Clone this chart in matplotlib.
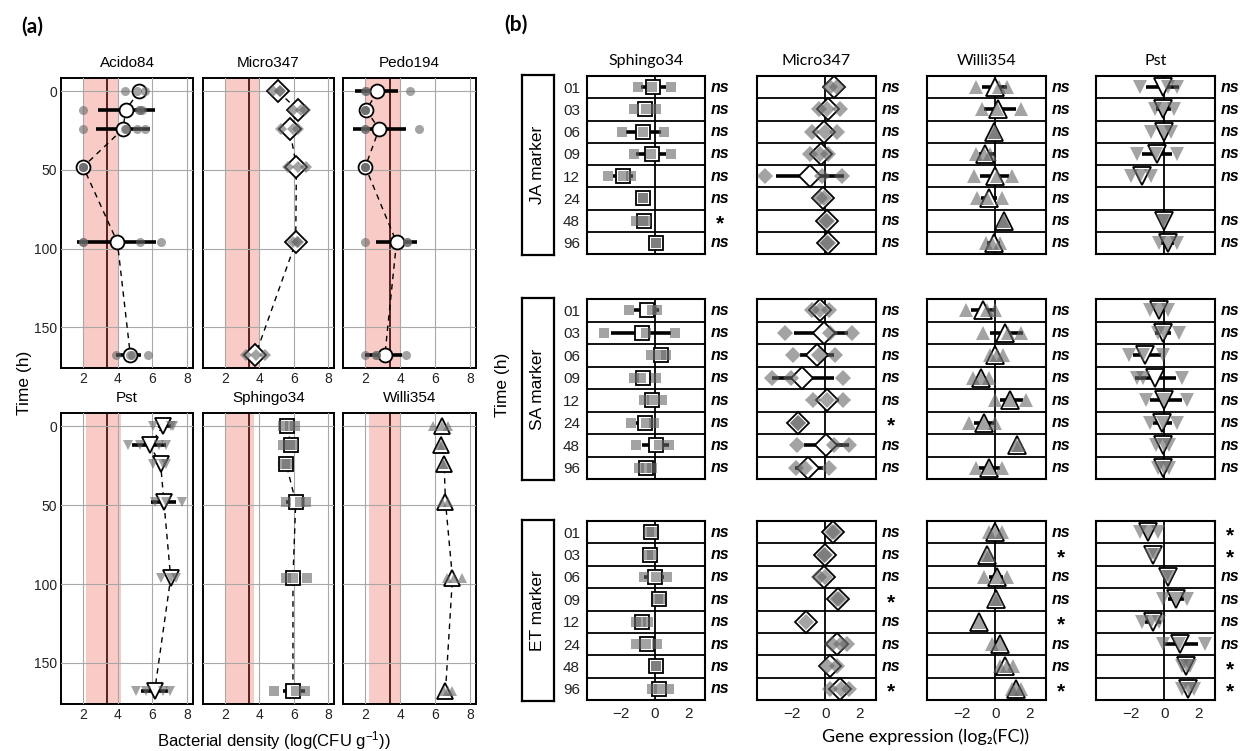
import matplotlib.pyplot as plt
import numpy as np

plt.rcParams['font.family'] = ['Liberation Sans', 'DejaVu Sans']
plt.rcParams['mathtext.default'] = 'regular'

W, H = 1241, 751

# ---------------- panel (a): bacterial density ----------------
times = [0, 12, 24, 48, 96, 168]

acido84 = dict(mean=[5.23, 4.46, 4.3, 2.0, 3.98, 4.73],
               lo=[4.8, 2.87, 2.77, None, 1.67, 3.9],
               hi=[5.65, 6.13, 5.88, None, 6.23, 5.37],
               reps=[[4.4, 5.1, 5.55], [2.0, 5.3, 5.4, 5.2], [2.0, 4.4, 5.1, 5.55, 4.5],
                     [2.0, 2.0, 2.0], [2.0, 5.3, 6.5, 2.0], [3.9, 4.8, 5.75, 4.7]])
micro347 = dict(mean=[5.09, 6.25, 5.77, 6.16, 6.12, 3.77],
                lo=[None] * 6, hi=[None] * 6,
                reps=[[4.8, 5.2, 5.2], [5.96, 6.45, 6.64], [5.28, 5.96, 6.25],
                      [5.67, 6.25, 6.74], [5.96, 6.25, 6.2], [3.24, 3.83, 4.31]])
pedo194 = dict(mean=[2.69, 2.06, 2.79, 2.0, 3.79, 3.12],
               lo=[1.38, None, 1.29, None, 2.63, 2.0],
               hi=[3.88, None, 4.33, None, 4.98, 4.1],
               reps=[[2.06, 2.0, 4.56], [2.0, 2.0, 2.0], [2.0, 2.0, 5.1],
                     [2.0, 2.0, 2.0], [2.0, 4.4, 4.4], [2.0, 2.6, 2.6, 4.33]])
pst = dict(mean=[6.6, 5.85, 6.48, 6.67, 7.06, 6.13],
           lo=[6.3, 4.8, None, 5.94, None, 5.37],
           hi=[7.1, 6.8, None, 7.38, None, 6.9],
           reps=[[6.04, 7.1, 7.2], [4.6, 5.3, 6.4, 6.8], [6.04, 6.6, 6.8],
                 [6.13, 6.8, 7.73], [6.5, 7.1, 7.38], [5.08, 5.65, 6.6, 7.0]])
sphingo34 = dict(mean=[5.61, 5.86, 5.57, 6.12, 5.96, 5.96],
                 lo=[None, None, None, 5.57, 5.47, 5.38],
                 hi=[None, None, None, 6.45, 6.45, 6.64],
                 reps=[[5.38, 5.77, 6.06], [5.38, 5.77, 5.96], [5.47, 5.6],
                       [5.57, 6.35, 6.74], [5.57, 5.96, 6.78], [4.83, 6.16, 6.64]])
willi354 = dict(mean=[6.42, 6.33, 6.52, 6.6, 7.0, 6.6],
                lo=[None] * 6, hi=[None] * 6,
                reps=[[5.9, 6.38, 6.77], [6.3, 6.38], [6.48, 6.52], [6.38, 6.77],
                      [6.67, 7.06, 7.54], [6.5, 6.77, 6.96]])

a_names = ['Acido84', 'Micro347', 'Pedo194', 'Pst', 'Sphingo34', 'Willi354']
a_data = [acido84, micro347, pedo194, pst, sphingo34, willi354]
a_markers = ['o', 'D', 'o', 'v', 's', '^']
band_lo = [2.0, 2.0, 2.0, 2.15, 2.0, 2.2]
band_hi = [4.0, 4.05, 4.0, 4.2, 3.67, 4.05]
detect_limit = 3.4

# ---------------- panel (b): gene expression ----------------
row_labels = ['01', '03', '06', '09', '12', '24', '48', '96']
blocks = ['JA marker', 'SA marker', 'ET marker']
b_names = ['Sphingo34', 'Micro347', 'Willi354', 'Pst']
b_markers = ['s', 'D', '^', 'v']

ja_sphingo = dict(mean=[-0.1, -0.6, -0.69, -0.14, -1.92, -0.69, -0.63, 0.06],
                  lo=[-0.83, -0.93, -1.72, -1.13, -2.5, None, -0.93, None],
                  hi=[0.65, -0.14, 0.36, 0.65, -1.33, None, -0.33, None],
                  reps=[[-1.03, -0.14, 0.95], [-1.27, -0.53, 0.06], [-1.96, -0.73, 0.55],
                        [-1.23, -0.24, 0.95], [-2.81, -1.92, -1.43], [-0.69, -0.7],
                        [-1.13, -0.73, -0.53], [0.06, 0.05]],
                  sig=['ns', 'ns', 'ns', 'ns', 'ns', 'ns', '*', 'ns'])
ja_micro = dict(mean=[0.5, 0.14, -0.06, -0.24, -0.9, -0.16, 0.1, 0.14],
                lo=[None, -0.3, -0.6, -0.6, -2.9, None, None, None],
                hi=[None, 0.5, 0.5, 0.14, 1.1, None, None, None],
                reps=[[0.3, 0.7], [-0.4, 0.1, 0.85], [-0.8, 0.0, 0.7], [-0.9, -0.3, 0.14],
                      [-3.56, -0.2, 1.0], [-0.3, -0.1], [0.06, 0.1], [0.14, 0.12]],
                sig=['ns'] * 8)
ja_willi = dict(mean=[-0.04, 0.15, -0.06, -0.62, 0.0, -0.38, 0.52, -0.1],
                lo=[-0.77, -0.67, None, -0.96, -0.9, -0.87, None, -0.48],
                hi=[0.67, 1.25, None, -0.1, 0.83, 0.1, None, 0.29],
                reps=[[-1.15, 0.19, 0.67], [-0.77, 0.1, 1.54], [-0.1, 0.0], [-1.15, -0.67, -0.29],
                      [-1.25, 0.1, 0.96], [-1.06, -0.48, 0.38], [0.48, 0.52], [-0.58, -0.19, 0.29]],
                sig=['ns'] * 8)
ja_pst = dict(mean=[-0.06, -0.06, -0.04, -0.42, -1.35, np.nan, 0.0, 0.19],
              lo=[-1.06, -0.48, -0.29, -1.35, None, None, None, -0.19],
              hi=[0.87, 0.38, 0.29, 0.48, None, None, None, 0.58],
              reps=[[-1.44, 0.19, 0.77], [-0.58, -0.1, 0.58], [-0.77, 0.0, 0.38], [-1.63, -0.48, 0.77],
                    [-1.98, -1.44, -0.77], [], [-0.1, 0.0], [-0.29, 0.19, 0.77]],
              sig=['ns', 'ns', 'ns', 'ns', 'ns', '', 'ns', 'ns'])

sa_sphingo = dict(mean=[-0.48, -0.77, 0.36, -0.69, -0.14, -0.57, 0.06, -0.5],
                  lo=[-1.23, -2.6, 0.06, -1.13, -0.43, -1.13, -0.77, -0.83],
                  hi=[0.26, 0.95, 0.65, -0.24, 0.26, -0.14, 0.85, -0.14],
                  reps=[[-1.52, -0.14, 0.16], [-3.05, -0.53, 1.2], [-0.24, 0.36, 0.65],
                        [-1.23, -0.83, 0.06], [-0.63, -0.14, 0.46], [-1.43, -0.53, -0.04],
                        [-1.13, 0.26, 0.85], [-0.93, -0.53, -0.14]],
                  sig=['ns'] * 8)
sa_micro = dict(mean=[-0.3, -0.1, -0.5, -1.39, 0.1, -1.64, 0.06, -1.0],
                lo=[None, -1.84, -1.5, -3.17, -0.5, None, -1.25, -1.8],
                hi=[None, 1.33, 0.5, 0.5, 0.8, None, 1.39, -0.16],
                reps=[[-0.8, -0.3, 0.2], [-2.4, 0.3, 1.6], [-1.9, -0.4, 0.6], [-3.17, -2.04, 1.05],
                      [-0.73, 0.1, 1.05], [-1.64, -1.6], [-1.68, 0.5, 1.39], [-1.72, -1.2, 0.2]],
                sig=['ns', 'ns', 'ns', 'ns', 'ns', '*', 'ns', 'ns'])
sa_willi = dict(mean=[-0.71, 0.58, 0.0, -0.87, 0.87, -0.67, 1.29, -0.38],
                lo=[-1.44, -0.33, None, None, 0.29, -1.25, None, -0.96],
                hi=[-0.1, 1.63, None, None, 1.63, -0.1, None, 0.29],
                reps=[[-1.73, -0.5, 0.0], [-0.71, 0.77, 1.54], [-0.29, 0.1, 0.48], [-1.35, -0.87, -0.38],
                      [0.0, 0.87, 1.79], [-1.54, -0.67, 0.0], [1.21, 1.4], [-1.15, -0.38, 0.38]],
                sig=['ns'] * 8)
sa_pst = dict(mean=[-0.29, -0.06, -1.15, -0.58, 0.0, -0.15, -0.1, -0.1],
              lo=[None, -0.58, -1.83, -1.73, -0.87, -0.67, None, None],
              hi=[None, 0.38, -0.19, 0.67, 1.06, 0.48, None, None],
              reps=[[-0.87, -0.29, 0.19], [-0.38, 0.0, 0.87], [-2.1, -1.25, -0.1], [-1.63, -1.25, 1.06],
                    [-1.1, 0.0, 1.35], [-0.87, -0.1, 0.77], [-0.48, 0.0, 0.29], [-0.38, 0.0, 0.29]],
              sig=['ns'] * 8)

et_sphingo = dict(mean=[-0.2, -0.3, 0.0, 0.26, -0.79, -0.44, 0.06, 0.26],
                  lo=[None, None, -0.63, None, -1.03, -0.83, None, -0.04],
                  hi=[None, None, 0.55, None, -0.53, -0.04, None, 0.55],
                  reps=[[-0.34, -0.14], [-0.38, -0.14], [-0.63, 0.06, 0.75], [0.22, 0.3],
                        [-1.13, -0.83, -0.43], [-1.13, -0.53, 0.16], [0.06, 0.05], [-0.14, 0.26, 0.85]],
                  sig=['ns'] * 8)
et_micro = dict(mean=[0.46, -0.04, -0.1, 0.75, -1.13, 0.69, 0.3, 0.85],
                lo=[None, None, -0.4, None, None, 0.3, -0.1, 0.4],
                hi=[None, None, 0.3, None, None, 1.1, 0.7, 1.2],
                reps=[[0.4, 0.5], [-0.1, 0.0], [-0.4, 0.0], [0.7, 0.8], [-1.13],
                      [0.4, 0.9, 1.29], [0.1, 0.7], [0.3, 0.9, 1.39]],
                sig=['ns', 'ns', 'ns', '*', 'ns', 'ns', 'ns', '*'])
et_willi = dict(mean=[0.0, -0.52, 0.1, 0.06, -0.96, 0.25, 0.58, 1.21],
                lo=[None, None, -0.38, None, None, -0.1, None, None],
                hi=[None, None, 0.48, None, None, 0.48, None, None],
                reps=[[-0.38, 0.0, 0.38], [-0.58, -0.38], [-0.67, 0.1, 0.67], [0.0, 0.1], [-0.96],
                      [-0.19, 0.29], [0.29, 0.67, 1.06], [0.96, 1.25, 1.54]],
                sig=['ns', '*', 'ns', 'ns', '*', 'ns', 'ns', '*'])
et_pst = dict(mean=[-0.96, -0.67, 0.19, 0.67, -0.67, 0.9, 1.29, 1.4],
              lo=[None, None, None, 0.19, -1.15, -0.1, None, None],
              hi=[None, None, None, 1.15, -0.19, 2.0, None, None],
              reps=[[-1.44, -0.96, -0.38], [-0.77, -0.58], [0.1, 0.29], [-0.1, 0.67, 1.35],
                    [-1.35, -0.77, -0.29], [-0.06, 0.87, 2.4], [1.06, 1.35, 1.54], [1.06, 1.44, 1.73]],
              sig=['*', '*', 'ns', 'ns', 'ns', 'ns', '*', '*'])

b_data = [[ja_sphingo, ja_micro, ja_willi, ja_pst],
          [sa_sphingo, sa_micro, sa_willi, sa_pst],
          [et_sphingo, et_micro, et_willi, et_pst]]


def box(l, t, r, b):
    return [l / W, 1 - b / H, (r - l) / W, (b - t) / H]


def draw_series(ax, d, ys, marker, ms_mean, ms_rep):
    for y, a, b in zip(ys, d['lo'], d['hi']):
        if a is not None:
            ax.plot([a, b], [y, y], color='black', lw=2.6, solid_capstyle='butt', zorder=4)
    ax.plot(d['mean'], ys, marker, ls='none', mfc='white', mec='black', mew=1.3,
            ms=ms_mean, zorder=5)
    for y, r in zip(ys, d['reps']):
        ax.plot(r, [y] * len(r), marker, ls='none', color='#666666', alpha=0.6,
                mew=0, ms=ms_rep, zorder=6)


fig = plt.figure(figsize=(W / 100, H / 100), dpi=100)

a_cols = [(61, 193), (203, 334), (343, 476)]
a_rows = [(78, 368), (413, 704)]

for k, (name, d) in enumerate(zip(a_names, a_data)):
    r, c = divmod(k, 3)
    ax = fig.add_axes(box(a_cols[c][0], a_rows[r][0], a_cols[c][1], a_rows[r][1]))
    ax.axvspan(band_lo[k], band_hi[k], color='#f9cbc6', lw=0, zorder=0)
    ax.axvline(detect_limit, color='#4a1414', lw=1.3, zorder=1)
    ax.set_axisbelow(False)
    ax.grid(color='#a8a8a8', lw=0.8)
    ax.plot(d['mean'], times, color='black', lw=1.0, dashes=(4, 3.5), zorder=3)
    ms_mean = 11 if a_markers[k] in ('v', '^', 'D') else 10
    draw_series(ax, d, times, a_markers[k], ms_mean, 6.5)
    ax.set_xlim(0.72, 8.35)
    ax.set_ylim(176, -8.5)
    ax.set_xticks([2, 4, 6, 8])
    ax.set_yticks([0, 50, 100, 150])
    ax.tick_params(length=0, labelsize=10, pad=3, colors='#222222')
    if c > 0:
        ax.set_yticklabels([])
    for s in ax.spines.values():
        s.set_linewidth(1.4)
    ax.set_title(name, fontsize=11, pad=8)

fig.text(32 / W, 1 - 27 / H, '(a)', fontsize=15, fontweight='bold',
         family=['Lato', 'DejaVu Sans'], ha='center', va='center')
fig.text(25 / W, 1 - 383 / H, 'Time (h)', fontsize=12.5, rotation=90,
         ha='center', va='center')
fig.text(274 / W, 1 - 741 / H, 'Bacterial density (log(CFU g$^{-1}$))', fontsize=12,
         ha='center', va='center')

b_cols = [(587, 705), (757, 876), (927, 1046), (1096, 1215)]
b_rows = [(76, 254), (299, 479), (521, 700)]
rows = np.arange(len(row_labels))

for i, block in enumerate(blocks):
    bx = fig.add_axes(box(522, b_rows[i][0] - 1, 554, b_rows[i][1] + 1))
    bx.set_xticks([])
    bx.set_yticks([])
    for s in bx.spines.values():
        s.set_linewidth(1.6)
    bx.text(0.5, 0.5, block, rotation=90, ha='center', va='center', fontsize=12.5,
            transform=bx.transAxes)
    for j, name in enumerate(b_names):
        d = b_data[i][j]
        ax = fig.add_axes(box(b_cols[j][0], b_rows[i][0], b_cols[j][1], b_rows[i][1]))
        ax.axvline(0, color='black', lw=1.3, zorder=2)
        for y in rows[:-1]:
            ax.axhline(y + 0.5, color='black', lw=1.3, zorder=1)
        mk = b_markers[j]
        ms_mean = {'s': 10, 'D': 11.5, '^': 13, 'v': 13}[mk]
        ms_rep = {'s': 7.5, 'D': 8, '^': 9.5, 'v': 9.5}[mk]
        draw_series(ax, d, rows, mk, ms_mean, ms_rep)
        ax.set_xlim(-4.05, 3.0)
        ax.set_ylim(7.5, -0.5)
        ax.set_yticks(rows)
        ax.set_yticklabels(row_labels if j == 0 else [])
        if i == 2:
            ax.set_xticks([-2, 0, 2])
            ax.set_xticklabels(['\u22122', '0', '2'])
        else:
            ax.set_xticks([])
        ax.tick_params(length=0, labelsize=11, pad=5, colors='#222222')
        for s in ax.spines.values():
            s.set_linewidth(1.5)
        for y, s in zip(rows, d['sig']):
            if s == 'ns':
                ax.annotate('ns', xy=(1, y), xycoords=('axes fraction', 'data'),
                            xytext=(11, 0), textcoords='offset points', ha='center',
                            va='center', fontsize=11.5, fontweight='bold', fontstyle='italic',
                            annotation_clip=False)
            elif s == '*':
                ax.annotate('*', xy=(1, y), xycoords=('axes fraction', 'data'),
                            xytext=(11, -2.5), textcoords='offset points', ha='center',
                            va='center', fontsize=15, fontweight='bold', annotation_clip=False)
        if i == 0:
            ax.set_title(name, fontsize=11.5, pad=8, family=['Lato', 'DejaVu Sans'])

fig.text(516 / W, 1 - 25 / H, '(b)', fontsize=15, fontweight='bold',
         family=['Lato', 'DejaVu Sans'], ha='center', va='center')
fig.text(502 / W, 1 - 385 / H, 'Time (h)', fontsize=12.5, rotation=90,
         ha='center', va='center')
fig.text(926 / W, 1 - 737 / H, 'Gene expression (log\u2082(FC))', fontsize=13,
         family=['Lato', 'DejaVu Sans'], ha='center', va='center')

fig.savefig('out.png', dpi=100)
